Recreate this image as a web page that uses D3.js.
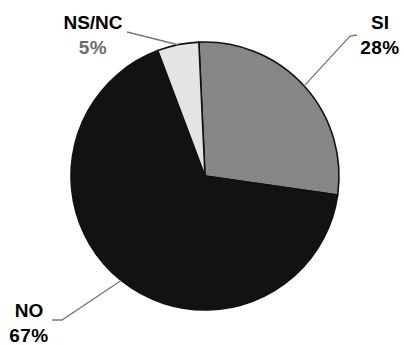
<!DOCTYPE html>
<html>
<head>
<meta charset="utf-8">
<script src="https://cdn.jsdelivr.net/npm/d3@7"></script>
<style>
  html, body { margin: 0; padding: 0; background: #fff; }
  svg { display: block; }
</style>
</head>
<body>
<div id="chart"></div>
<script>
"use strict"

// data
const categories = ["SI", "NO", "NS/NC"];
const values = [28, 67, 5];
const percentLabels = ["28%", "67%", "5%"];

const fills = ["url(#hatch)", "#121212", "#e4e4e4"];
const pctColors = ["#000", "#000", "#6e6e6e"];

// label placement: elbow, line end, text anchor x, text baseline of first line
const labelLayout = [
  {elbow: [350, 36], end: [357, 35], tx: 380, ty: 29},
  {elbow: [62, 320], end: [52, 320], tx: 29, ty: 317},
  {elbow: [127, 32], end: [127, 32], tx: 93, ty: 29}
];

let width = 404, height = 345;
let cx = 205, cy = 176, radius = 134;

let svg = d3.select("#chart")
  .append("svg")
  .attr("width", width)
  .attr("height", height);

let defs = svg.append("defs");
let pat = defs.append("pattern")
  .attr("id", "hatch")
  .attr("patternUnits", "userSpaceOnUse")
  .attr("width", 3)
  .attr("height", 3);
pat.append("rect").attr("width", 3).attr("height", 3).attr("fill", "#8c8c8c");
pat.append("path").attr("d", "M0,3 L3,0").attr("stroke", "#7a7a7a").attr("stroke-width", 0.8);
pat.append("path").attr("d", "M0,0 L3,3").attr("stroke", "#838383").attr("stroke-width", 0.6);

let start = -0.046;
let pie = d3.pie()
  .sort(null)
  .startAngle(start)
  .endAngle(start + 2 * Math.PI)
  .value(function(d) { return d; });

let arcs = pie(values);
let arc = d3.arc().innerRadius(0).outerRadius(radius);

let g = svg.append("g")
  .attr("transform", "translate(" + cx + "," + cy + ")");

g.selectAll("path.slice")
  .data(arcs)
  .enter()
  .append("path")
  .attr("class", "slice")
  .attr("d", arc)
  .attr("fill", function(d, i) { return fills[i]; })
  .attr("stroke", "#111")
  .attr("stroke-width", 1.6)
  .attr("stroke-linejoin", "round");

// leader lines
svg.selectAll("polyline.leader")
  .data(arcs)
  .enter()
  .append("polyline")
  .attr("class", "leader")
  .attr("points", function(d, i) {
    let a = (d.startAngle + d.endAngle) / 2;
    let p0 = [cx + radius * Math.sin(a), cy - radius * Math.cos(a)];
    let L = labelLayout[i];
    return [p0, L.elbow, L.end].map(function(p) { return p.join(","); }).join(" ");
  })
  .attr("fill", "none")
  .attr("stroke", "#777")
  .attr("stroke-width", 1.3);

let labels = svg.selectAll("g.label")
  .data(categories)
  .enter()
  .append("g")
  .attr("class", "label");

labels.append("text")
  .attr("x", function(d, i) { return labelLayout[i].tx; })
  .attr("y", function(d, i) { return labelLayout[i].ty; })
  .attr("text-anchor", "middle")
  .style("font-family", "'Liberation Sans', Arial, sans-serif")
  .style("font-weight", "bold")
  .style("font-size", "19px")
  .attr("fill", "#000")
  .text(function(d) { return d; });

labels.append("text")
  .attr("x", function(d, i) { return labelLayout[i].tx; })
  .attr("y", function(d, i) { return labelLayout[i].ty + 24.5; })
  .attr("text-anchor", "middle")
  .style("font-family", "'Liberation Sans', Arial, sans-serif")
  .style("font-weight", "bold")
  .style("font-size", "19px")
  .style("letter-spacing", "0.5px")
  .attr("fill", function(d, i) { return pctColors[i]; })
  .text(function(d, i) { return percentLabels[i]; });
</script>
</body>
</html>
